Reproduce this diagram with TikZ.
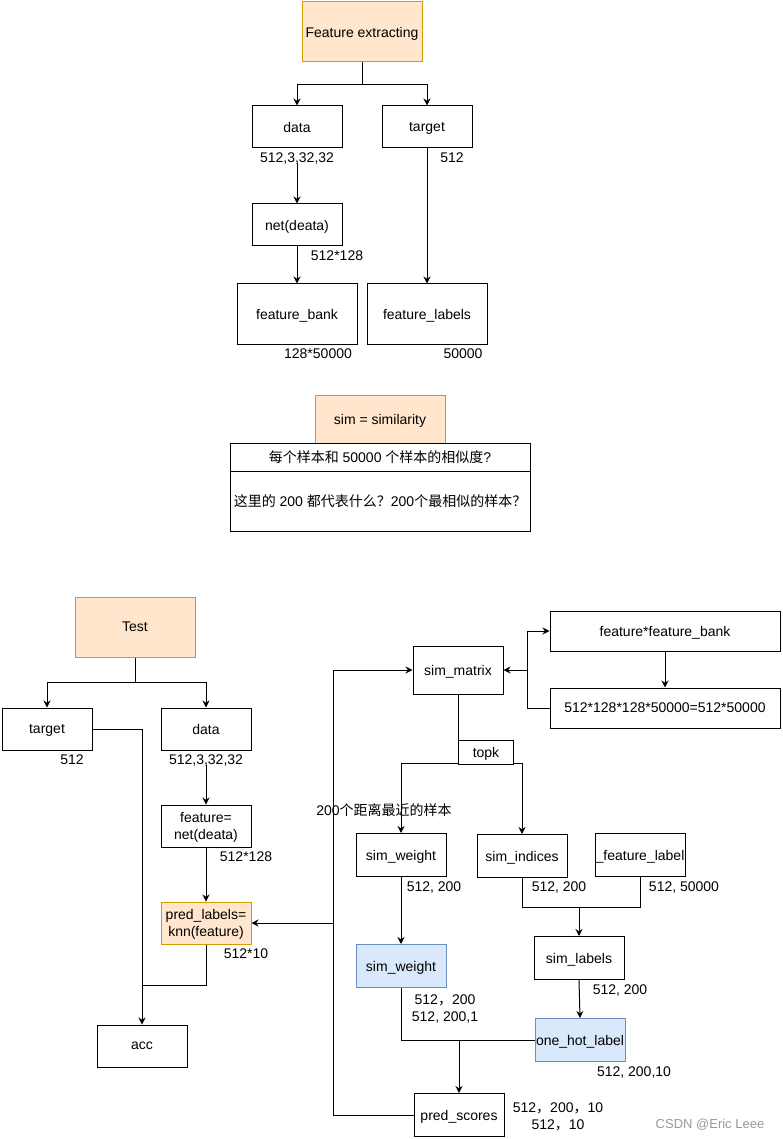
\documentclass[tikz,border=0pt]{standalone}
\usepackage{fontspec}
\setmainfont{Liberation Sans}
\newfontfamily\cjk{Noto Sans CJK SC}
\usetikzlibrary{arrows.meta}
\newcommand{\fc}{{\cjk ，}}
\definecolor{orfill}{HTML}{FFE6CC}
\definecolor{ordraw}{HTML}{D79B00}
\definecolor{blfill}{HTML}{DAE8FC}
\definecolor{bldraw}{HTML}{6C8EBF}
\begin{document}
\begin{tikzpicture}[x=1pt,y=-1pt,
  every node/.style={font=\fontsize{14}{17}\selectfont, inner sep=0pt, text depth=0pt},
  box/.style={draw=black, fill=white, line width=1pt, minimum width=90pt, minimum height=42pt, align=center},
  wide/.style={box, minimum width=120pt, minimum height=60pt},
  orange/.style={fill=orfill, draw=ordraw},
  blue/.style={fill=blfill, draw=bldraw},
  dim/.style={align=center},
  con/.style={line width=1pt, draw=black},
  arr/.style={con, -{Stealth[length=7pt,width=7pt]}}]
\fill[white] (0,0) rectangle (783,1139);
\useasboundingbox (0,0) rectangle (783,1139);

% ---------- top: feature extracting ----------
\node[wide, orange] (fe) at (362,32) {Feature extracting};
\node[box] (data1) at (297,127) {data};
\node[box] (target1) at (427,127) {target};
\node[dim] (ldata1) at (297,158) {512,3,32,32};
\node[dim] (ltarget1) at (452,158) {512};
\node[box] (net1) at (297,225) {net(deata)};
\node[dim] (lnet1) at (337,256) {512*128};
\node[wide] (fb) at (297,314) {feature\_bank};
\node[wide] (fl) at (427,314) {feature\_labels};
\node[dim] (lfb) at (318,354) {128*50000};
\node[dim] (lfl) at (463,354) {50000};

\coordinate (fesplit) at (362,85);
\draw[con] (fe.south) -- (fesplit);
\draw[arr] (fesplit) -| (data1.north);
\draw[arr] (fesplit) -| (target1.north);
\draw[arr] (ldata1.south) -- (net1.north);
\draw[arr] (net1.south) -- (fb.north);
\draw[arr] (target1.south) -- (fl.north);

% ---------- middle: similarity ----------
\node[box, orange, minimum width=130pt, minimum height=48pt] (sim) at (380,419) {sim = similarity};
\node[box, minimum width=300pt, minimum height=28pt] (row1) at (380,457) {{\cjk 每个样本和} 50000 {\cjk 个样本的相似度}?};
\node[box, minimum width=300pt, minimum height=60pt] (row2) at (380,501) {{\cjk 这里的} 200 {\cjk 都代表什么？}200{\cjk 个最相似的样本？}};

% ---------- bottom: test ----------
\node[wide, orange] (test) at (135,627) {Test};
\node[box] (target2) at (47,729) {target};
\node[box] (data2) at (206,729) {data};
\node[dim] (ltarget2) at (72,760) {512};
\node[dim] (ldata2) at (206,760) {512,3,32,32};
\node[box] (feat) at (206,826) {feature=\\net(deata)};
\node[dim] (lfeat) at (246,857) {512*128};
\node[box, orange] (pred) at (206,923) {pred\_labels=\\knn(feature)};
\node[dim] (lpred) at (246,954) {512*10};
\node[box] (acc) at (142,1046) {acc};

\coordinate (tsplit) at (135,682);
\draw[con] (test.south) -- (tsplit);
\draw[arr] (tsplit) -| (target2.north);
\draw[arr] (tsplit) -| (data2.north);
\draw[arr] (target2.east) -| (acc.north);
\draw[arr] (ldata2.south) -- (feat.north);
\draw[arr] (feat.south) -- (pred.north);
\coordinate (accj) at (142,985);
\draw[con] (pred.south) |- (accj);

% knn internals
\node[box, minimum height=48pt] (sm) at (458,670) {sim\_matrix};
\node[box, minimum width=230pt, minimum height=40pt] (fxfb) at (665,631) {feature*feature\_bank};
\node[box, minimum width=230pt, minimum height=40pt] (prod) at (665,708) {512*128*128*50000=512*50000};
\coordinate (smj) at (527,670);
\coordinate (bend) at (527,708);
\draw[arr] (fxfb.south) -- (prod.north);
\draw[arr] (prod.west) -- (bend) |- (fxfb.west);
\draw[arr] (smj) -- (sm.east);

\node[box, minimum height=43pt] (sw1) at (401,855) {sim\_weight};
\node[box, minimum height=43pt] (si) at (522,856) {sim\_indices};
\node[box, minimum height=43pt] (fl2) at (640,855) {\_feature\_label};
\coordinate (tk) at (458,763);
\draw[con] (sm.south) -- (tk);
\draw[arr] (tk) -| (sw1.north);
\draw[arr] (tk) -| (si.north);
\node[box, minimum width=55pt, minimum height=24pt] (topk) at (486,752) {topk};
\node[dim] (l200) at (384,810) {200{\cjk 个距离最近的样本}};

\node[dim] (lsw1) at (434,887) {512, 200};
\node[dim] (lsi) at (559,887) {512, 200};
\node[dim] (lfl2) at (684,887) {512, 50000};

\node[box, minimum height=43pt] (sl) at (579,958) {sim\_labels};
\node[dim] (lsl) at (620,990) {512, 200};
\coordinate (j1) at (522,907);
\coordinate (j2) at (640,907);
\coordinate (sij) at (579,907);
\draw[con] (si.south) -- (j1) -- (j2) -- (fl2.south);
\draw[arr] (sij) -- (sl.north);

\node[box, blue, minimum height=43pt] (sw2) at (401,966) {sim\_weight};
\draw[arr] (sw1.south) -- (sw2.north);
\node[dim] (lsw2) at (445,1008) {512\fc 200\\512, 200,1};

\node[box, blue, minimum height=43pt] (oh) at (580,1040) {one\_hot\_label};
\draw[arr] (sl.south) -- (oh.north);
\node[dim] (loh) at (634,1072) {512, 200,10};

\node[box, minimum height=43pt] (ps) at (459,1115) {pred\_scores};
\node[dim] (lps) at (558,1116) {512\fc 200\fc 10\\512\fc 10};
\coordinate (ohj) at (459,1040);
\draw[con] (sw2.south) |- (oh.west);
\draw[arr] (ohj) -- (ps.north);

\coordinate (vb) at (333,1115);
\coordinate (vl) at (333,923);
\draw[arr] (ps.west) -- (vb) |- (sm.west);
\draw[arr] (vl) -- (pred.east);

\node[text=black!40, font=\fontsize{13}{15}\selectfont] (wm) at (710,1124) {CSDN @Eric Leee};
\end{tikzpicture}
\end{document}
